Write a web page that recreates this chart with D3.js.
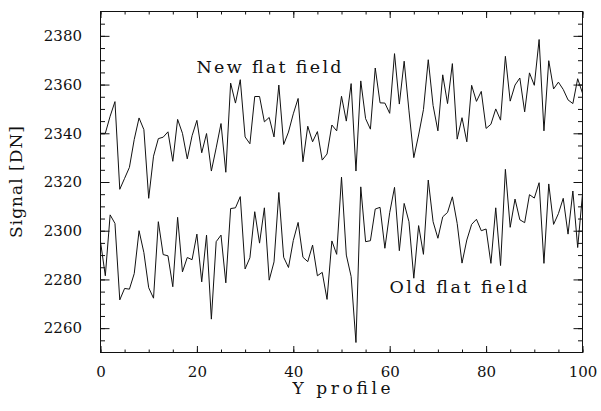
<!DOCTYPE html>
<html>
<head>
<meta charset="utf-8">
<script src="https://cdn.jsdelivr.net/npm/d3@7"></script>
<style>
  html, body { margin: 0; padding: 0; background: #fff; }
  svg { display: block; }
  text { font-family: "DejaVu Serif", "Liberation Serif", serif; fill: #111; }
</style>
</head>
<body>
<svg id="chart" width="601" height="411"></svg>
<script>
// ---- data ----
const profile = d3.range(0, 101);
const newFlat = [2340, 2340, 2347, 2353, 2317, 2321.5, 2326, 2337.5, 2346.3, 2341.5,
  2313.3, 2330.6, 2337.8, 2338.4, 2340.6, 2328.5, 2345.7, 2340, 2329.5, 2339,
  2345.3, 2332, 2339.9, 2324.5, 2334, 2344, 2324, 2360.6, 2352.4, 2362,
  2338.5, 2335.7, 2355.1, 2355.1, 2344.7, 2346.5, 2338.5, 2359.8, 2335.4, 2340.5,
  2348, 2354.3, 2328.3, 2342.9, 2336.5, 2340.7, 2329, 2331.5, 2343.4, 2341,
  2355.2, 2345, 2360.4, 2324.5, 2361.5, 2346, 2341.7, 2366.8, 2352.5, 2352.4,
  2348.2, 2372.7, 2352, 2369.6, 2349.2, 2330, 2339.3, 2349.7, 2370.2, 2351.4,
  2341, 2364, 2352.2, 2368.6, 2337.6, 2346.4, 2336.5, 2359.7, 2353.1, 2357.2,
  2342, 2343.7, 2350, 2345.4, 2371.6, 2353.2, 2359.8, 2362.7, 2348.8, 2364.8,
  2359.7, 2378.5, 2341, 2369.8, 2358.2, 2361, 2358, 2353.7, 2352.2, 2362.4, 2356.5];
const oldFlat = [2295.5, 2281.5, 2306.5, 2303, 2271.6, 2276.3, 2276, 2282.4, 2300, 2291,
  2276.6, 2272.3, 2303.7, 2290.2, 2289.7, 2277, 2305.5, 2283.1, 2289, 2288.1,
  2298.6, 2279, 2298.2, 2263.7, 2295.5, 2298.2, 2278.6, 2309.1, 2309.4, 2314,
  2284.3, 2288.9, 2307.8, 2294.9, 2309.4, 2279.7, 2287.2, 2315.7, 2289.1, 2284.9,
  2296, 2303.4, 2289.1, 2287.3, 2294.1, 2281.5, 2282.9, 2271.8, 2295.8, 2290.3,
  2322, 2290, 2281.2, 2254.1, 2318, 2295.5, 2295.9, 2308.9, 2309.6, 2292.8,
  2307.4, 2317.8, 2291.8, 2311.2, 2303.7, 2280.5, 2302.1, 2290.3, 2320.8, 2303.7,
  2296.9, 2305.7, 2307.5, 2313.9, 2303, 2286.7, 2296.2, 2302.6, 2304.7, 2300,
  2300.7, 2286.6, 2309.4, 2285.7, 2325.2, 2301.4, 2313, 2304.5, 2303.3, 2314.8,
  2313.4, 2319.7, 2286.6, 2319.2, 2302.6, 2307, 2313.3, 2298.6, 2316.3, 2293.1, 2315];
const xTicks = [0, 20, 40, 60, 80, 100];
const xMinor = d3.range(0, 101, 5);
const yTicks = [2260, 2280, 2300, 2320, 2340, 2360, 2380];
const yMinor = d3.range(2255, 2390, 5);
const labels = ["New flat field", "Old flat field"];

// ---- layout ----
const L = 100.5, R = 582.5, T = 11.5, B = 352.5;
const x = d3.scaleLinear().domain([0, 100]).range([L, R]);
const y = d3.scaleLinear().domain([2250, 2390]).range([B, T]);
const svg = d3.select("#chart");

function styleAxis(g) {
  g.select(".domain").remove();
  g.selectAll("line").attr("stroke", "#111").attr("stroke-width", 1);
  g.selectAll("text").attr("font-family", "DejaVu Serif").attr("font-size", 15).attr("fill", "#111");
}

// bottom
svg.append("g").attr("transform", `translate(0,${B})`)
  .call(d3.axisBottom(x).tickValues(xMinor).tickSize(-3).tickFormat(""))
  .call(styleAxis);
svg.append("g").attr("transform", `translate(0,${B})`)
  .call(d3.axisBottom(x).tickValues(xTicks).tickSize(-6.5).tickPadding(14).tickFormat(d3.format("d")))
  .call(styleAxis);
// top
svg.append("g").attr("transform", `translate(0,${T})`)
  .call(d3.axisTop(x).tickValues(xMinor).tickSize(-3).tickFormat(""))
  .call(styleAxis);
svg.append("g").attr("transform", `translate(0,${T})`)
  .call(d3.axisTop(x).tickValues(xTicks).tickSize(-6.5).tickFormat(""))
  .call(styleAxis);
// left
svg.append("g").attr("transform", `translate(${L},0)`)
  .call(d3.axisLeft(y).tickValues(yMinor).tickSize(-4.5).tickFormat(""))
  .call(styleAxis);
svg.append("g").attr("transform", `translate(${L},0)`)
  .call(d3.axisLeft(y).tickValues(yTicks).tickSize(-9).tickPadding(18.5).tickFormat(d3.format("d")))
  .call(styleAxis);
// right
svg.append("g").attr("transform", `translate(${R},0)`)
  .call(d3.axisRight(y).tickValues(yMinor).tickSize(-4.5).tickFormat(""))
  .call(styleAxis);
svg.append("g").attr("transform", `translate(${R},0)`)
  .call(d3.axisRight(y).tickValues(yTicks).tickSize(-9).tickFormat(""))
  .call(styleAxis);

// frame
svg.append("rect").attr("x", L).attr("y", T).attr("width", R - L).attr("height", B - T)
  .attr("fill", "none").attr("stroke", "#111").attr("stroke-width", 1);

// lines
const line = d3.line().x((d, i) => x(profile[i])).y(d => y(d));
[newFlat, oldFlat].forEach(s => {
  svg.append("path").datum(s).attr("d", line)
    .attr("fill", "none").attr("stroke", "#111").attr("stroke-width", 1)
    .attr("stroke-linejoin", "miter");
});

// annotations
svg.append("text").attr("x", 196.5).attr("y", 72.7).attr("font-size", 17.5)
  .attr("textLength", 145).attr("lengthAdjust", "spacing").text(labels[0]);
svg.append("text").attr("x", 389.5).attr("y", 292.7).attr("font-size", 17.5)
  .attr("textLength", 138).attr("lengthAdjust", "spacing").text(labels[1]);

// axis titles
svg.append("text").attr("x", (L + R) / 2 - 49).attr("y", 394).attr("font-size", 17)
  .attr("textLength", 98).attr("lengthAdjust", "spacing").text("Y profile");
svg.append("text").attr("transform", `translate(22,${(T + B) / 2 + 56}) rotate(-90)`).attr("font-size", 17)
  .attr("textLength", 112).attr("lengthAdjust", "spacing").text("Signal [DN]");
</script>
</body>
</html>
